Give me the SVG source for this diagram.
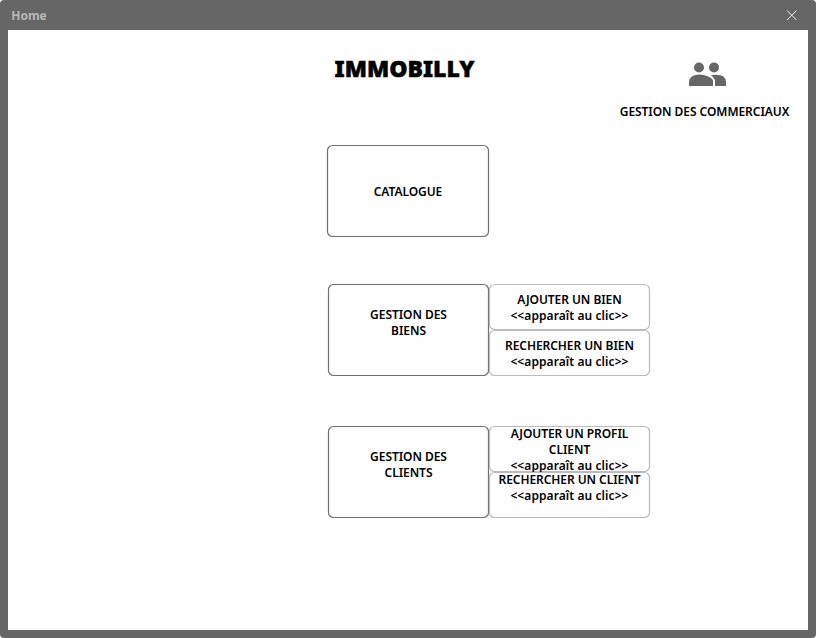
<svg xmlns="http://www.w3.org/2000/svg" width="816" height="638" viewBox="0 0 816 638">
<style>
text{font-family:"Noto Sans","Open Sans","Liberation Sans",sans-serif;text-anchor:middle;fill:#000;font-weight:600;font-size:12px;letter-spacing:-.06px}
.hint{letter-spacing:.08px}
.box{fill:#fff;stroke:#707070;stroke-width:1.2}
.sub{fill:#fff;stroke:#bbb;stroke-width:1.2}
</style>
<rect x="0" y="0" width="816" height="638" rx="4" fill="#666"/>
<rect x="8" y="30" width="800" height="600" fill="#fff"/>
<g id="titlebar">
<text x="29" y="20" style="fill:#b8b8b8;font-size:12px;font-weight:700;letter-spacing:0">Home</text>
<path d="M787 10.500L796.500 20M796.500 10.500L787 20" stroke="#eee" stroke-width="1" fill="none"/>
</g>
<g id="title"><text x="404.500" y="77" style="font-size:23px;font-weight:900;letter-spacing:0;stroke:#000;stroke-width:.5">IMMOBILLY</text></g>
<g id="commerciaux">
<circle cx="699" cy="67.500" r="5" fill="#666"/>
<circle cx="714" cy="67.500" r="5" fill="#666"/>
<path d="M689 86V82Q689 75 699 74.500Q709 75 713 80V86Z" fill="#666"/>
<path d="M715 86V80Q713 77 711 75Q726 73 726 82V86Z" fill="#666"/>
<text x="704.500" y="116">GESTION DES COMMERCIAUX</text>
</g>
<g id="catalogue"><rect class="box" x="327.500" y="145.500" width="161" height="91" rx="5"/><text x="408" y="196">CATALOGUE</text></g>
<g id="biens"><rect class="box" x="328.500" y="284.500" width="160" height="91" rx="5"/><text x="408.500" y="319">GESTION DES</text><text x="408.500" y="335">BIENS</text></g>
<g id="ajouter-bien"><rect class="sub" x="489.500" y="284.500" width="160" height="45" rx="5"/><text x="569.500" y="304">AJOUTER UN BIEN</text><text class="hint" x="569.500" y="320">&lt;&lt;apparaît au clic&gt;&gt;</text></g>
<g id="rechercher-bien"><rect class="sub" x="489.500" y="330.500" width="160" height="45" rx="5"/><text x="569.500" y="350">RECHERCHER UN BIEN</text><text class="hint" x="569.500" y="366">&lt;&lt;apparaît au clic&gt;&gt;</text></g>
<g id="clients"><rect class="box" x="328.500" y="426.500" width="160" height="91" rx="5"/><text x="408.500" y="461">GESTION DES</text><text x="408.500" y="477">CLIENTS</text></g>
<g id="ajouter-client"><rect class="sub" x="489.500" y="426.500" width="160" height="45" rx="5"/><text x="569.500" y="438">AJOUTER UN PROFIL</text><text x="569.500" y="454">CLIENT</text><text class="hint" x="569.500" y="470">&lt;&lt;apparaît au clic&gt;&gt;</text></g>
<g id="rechercher-client"><rect class="sub" x="489.500" y="472.500" width="160" height="45" rx="5"/><text x="569.500" y="484">RECHERCHER UN CLIENT</text><text class="hint" x="569.500" y="500">&lt;&lt;apparaît au clic&gt;&gt;</text></g>
<g id="connectors"></g>
</svg>
